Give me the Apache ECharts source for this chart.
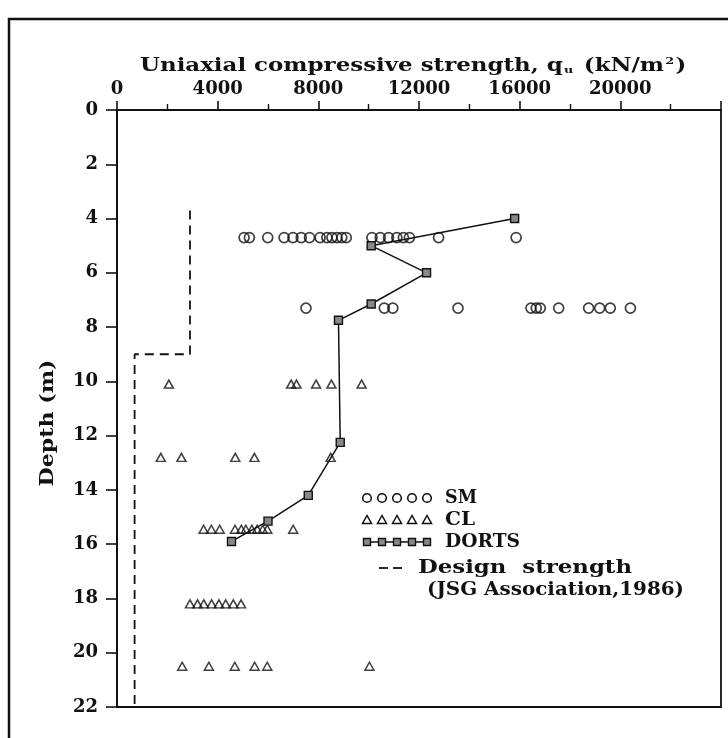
<!DOCTYPE html>
<html>
<head>
<meta charset="utf-8">
<style>
  html, body { margin: 0; padding: 0; background: #fff; }
  #chart { width: 728px; height: 738px; }
</style>
<script src="https://cdn.jsdelivr.net/npm/echarts@6/dist/echarts.min.js"></script>
</head>
<body>
<div id="chart"></div>
<script>
// Unconfined compressive strength (kN/m²) against depth (m)

// SM (silty sand) samples
const smDepth = [
  4.7, 4.7, 4.7, 4.7, 4.7, 4.7, 4.7, 4.7, 4.7, 4.7, 4.7, 4.7, 4.7, 4.7, 4.7, 4.7, 4.7, 4.7, 4.7, 4.7, 4.7,
  7.3, 7.3, 7.3, 7.3, 7.3, 7.3, 7.3, 7.3, 7.3, 7.3, 7.3, 7.3
];
const smStrength = [
  5050, 5260, 5990, 6640, 6990, 7320, 7650, 8070, 8340, 8540, 8740, 8930, 9110, 10130, 10460, 10790, 11120, 11380, 11620, 12780, 15860,
  7510, 10620, 10960, 13550, 16450, 16660, 16820, 17550, 18740, 19180, 19600, 20400
];

// CL (low plasticity clay) samples
const clDepth = [
  10.1, 10.1, 10.1, 10.1, 10.1, 10.1,
  12.8, 12.8, 12.8, 12.8, 12.8,
  15.45, 15.45, 15.45, 15.45, 15.45, 15.45, 15.45, 15.45, 15.45, 15.45, 15.45,
  18.2, 18.2, 18.2, 18.2, 18.2, 18.2, 18.2, 18.2,
  20.5, 20.5, 20.5, 20.5, 20.5, 20.5
];
const clStrength = [
  2060, 6920, 7130, 7910, 8520, 9720,
  1740, 2560, 4700, 5460, 8490,
  3440, 3750, 4080, 4690, 4940, 5120, 5360, 5570, 5790, 5970, 7000,
  2900, 3200, 3450, 3760, 4050, 4320, 4620, 4930,
  2590, 3650, 4680, 5470, 5970, 10030
];

// DORTS profile
const dortsDepth = [4.0, 5.0, 6.0, 7.15, 7.75, 12.25, 14.2, 15.15, 15.9];
const dortsStrength = [15800, 10100, 12300, 10100, 8800, 8870, 7600, 6000, 4550];

// Design strength (JSG Association, 1986)
const designDepth = [3.7, 9.0, 9.0, 22];
const designStrength = [2900, 2900, 700, 700];

// Axis ranges and ticks
const strengthMin = 0, strengthMax = 24000, strengthStep = 4000;
const depthMin = 0, depthMax = 22, depthStep = 2;

const FONT = '"DejaVu Serif", "Liberation Serif", serif';
const INK = '#111';
const TEXT_FONT = 'bold 18px ' + FONT;
const SMALL_FONT = 'bold 10px ' + FONT;

const pairs = (xs, ys) => xs.map((x, i) => [x, ys[i]]);

// horizontal stretch so a caption spans the wanted width (typewriter-wide lettering)
const measureCtx = document.createElement('canvas').getContext('2d');
function textWidth(t, font) { measureCtx.font = font; return measureCtx.measureText(t).width; }
function stretchedText(t, x, y, w) {
  const s = w / textWidth(t, TEXT_FONT);
  return { type: 'text', x: x, y: y, scaleX: s,
    style: { text: t, font: TEXT_FONT, fill: INK, verticalAlign: 'middle', align: 'left' } };
}

const chart = echarts.init(document.getElementById('chart'), null, { renderer: 'canvas' });

// legend rows drawn as graphic elements
const legX = [367, 382, 397, 412, 427];
const legend = [];
legX.forEach(x => {
  legend.push({ type: 'circle', shape: { cx: x, cy: 498, r: 4.3 },
    style: { fill: 'none', stroke: INK, lineWidth: 1.6 } });
  legend.push({ type: 'polygon', shape: { points: [[x, 515.5], [x - 4.5, 523.5], [x + 4.5, 523.5]] },
    style: { fill: 'none', stroke: INK, lineWidth: 1.5 } });
});
legend.push({ type: 'line', shape: { x1: 363, y1: 542, x2: 431, y2: 542 },
  style: { stroke: INK, lineWidth: 1.5 } });
legX.forEach(x => {
  legend.push({ type: 'rect', shape: { x: x - 3.5, y: 538.5, width: 7, height: 7 },
    style: { fill: '#888', stroke: INK, lineWidth: 1.4 } });
});
legend.push(stretchedText('SM', 445, 498, 32));
legend.push(stretchedText('CL', 445, 520, 30));
legend.push(stretchedText('DORTS', 445, 542, 75));
legend.push(stretchedText('Design  strength', 418, 568, 214));
legend.push(stretchedText('(JSG Association,1986)', 427, 590, 257));
legend.push({ type: 'line', shape: { x1: 379, y1: 568, x2: 388, y2: 568 }, style: { stroke: INK, lineWidth: 1.8 } });
legend.push({ type: 'line', shape: { x1: 393, y1: 568, x2: 402, y2: 568 }, style: { stroke: INK, lineWidth: 1.8 } });

// axis captions
const titleParts = ['Uniaxial compressive strength, q', ' (kN/m', ')'];
const titleWidth = textWidth(titleParts.join(''), TEXT_FONT) + 2 * textWidth('u', SMALL_FONT) + 6;
const titleScale = 548 / titleWidth;
const depthScale = 127 / textWidth('Depth (m)', TEXT_FONT);

const option = {
  backgroundColor: '#fff',
  animation: false,
  grid: {
    left: 117, top: 110, width: 604, height: 597,
    show: true, borderColor: INK, borderWidth: 1.8, backgroundColor: 'transparent'
  },
  xAxis: {
    type: 'value', position: 'top',
    min: strengthMin, max: strengthMax, interval: strengthStep,
    axisLine: { show: true, lineStyle: { color: INK, width: 1.8 } },
    axisTick: { show: true, inside: false, length: 9, lineStyle: { color: INK, width: 1.6 } },
    minorTick: { show: true, splitNumber: 2, length: 6, lineStyle: { color: INK, width: 1.4 } },
    splitLine: { show: false },
    axisLabel: {
      margin: 12, color: INK, fontFamily: FONT, fontSize: 18, fontWeight: 'bold',
      formatter: v => (v >= strengthMax ? '' : String(v))
    }
  },
  yAxis: {
    type: 'value', inverse: true,
    min: depthMin, max: depthMax, interval: depthStep,
    axisLine: { show: true, lineStyle: { color: INK, width: 1.8 } },
    axisTick: { show: true, inside: false, length: 11, lineStyle: { color: INK, width: 1.6 } },
    splitLine: { show: false },
    axisLabel: { margin: 19, color: INK, fontFamily: FONT, fontSize: 18, fontWeight: 'bold' }
  },
  graphic: [
    { type: 'rect', shape: { x: 9, y: 19, width: 760, height: 760 },
      style: { fill: 'none', stroke: INK, lineWidth: 2.5 }, z: 100 },
    { type: 'text', x: 140, y: 66, scaleX: titleScale,
      style: {
        text: '{a|' + titleParts[0] + '}{s|u}{a|' + titleParts[1] + '}{p|2}{a|' + titleParts[2] + '}',
        align: 'left', verticalAlign: 'middle', fill: INK,
        rich: {
          a: { font: TEXT_FONT, fill: INK, verticalAlign: 'middle', lineHeight: 24 },
          s: { font: SMALL_FONT, fill: INK, verticalAlign: 'bottom', lineHeight: 24, padding: [0, 2, 3, 1] },
          p: { font: SMALL_FONT, fill: INK, verticalAlign: 'top', lineHeight: 24, padding: [2, 1, 0, 1] }
        }
      } },
    { type: 'text', x: 48, y: 423, rotation: Math.PI / 2, scaleX: depthScale,
      style: { text: 'Depth (m)', font: TEXT_FONT, fill: INK, align: 'center', verticalAlign: 'middle' } },
    ...legend
  ],
  series: [
    {
      name: 'Design strength', type: 'line', data: pairs(designStrength, designDepth),
      symbol: 'none', lineStyle: { color: INK, width: 1.8, type: [9, 6] }, z: 2
    },
    {
      name: 'SM', type: 'scatter', data: pairs(smStrength, smDepth),
      symbol: 'circle', symbolSize: 10,
      itemStyle: { color: 'rgba(0,0,0,0)', borderColor: INK, borderWidth: 1.7 }, z: 3
    },
    {
      name: 'CL', type: 'scatter', data: pairs(clStrength, clDepth),
      symbol: 'triangle', symbolSize: [9, 8],
      itemStyle: { color: 'rgba(0,0,0,0)', borderColor: INK, borderWidth: 1.5 }, z: 3
    },
    {
      name: 'DORTS', type: 'line', data: pairs(dortsStrength, dortsDepth),
      symbol: 'rect', symbolSize: 8, showAllSymbol: true,
      lineStyle: { color: INK, width: 1.5 },
      itemStyle: { color: '#888', borderColor: INK, borderWidth: 1.4 }, z: 4
    }
  ]
};

chart.setOption(option);
</script>
</body>
</html>
